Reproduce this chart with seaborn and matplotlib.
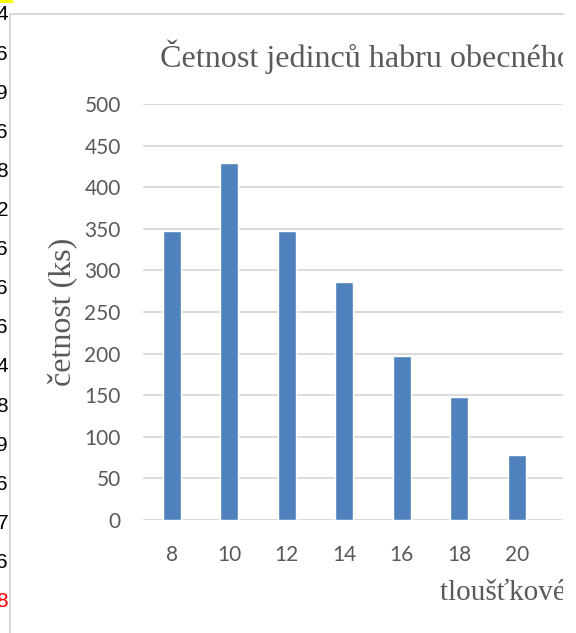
import matplotlib
matplotlib.use("Agg")
import matplotlib.pyplot as plt
import seaborn as sns
import pandas as pd
from matplotlib.patches import Rectangle
from matplotlib.lines import Line2D

# data
classes = ["8", "10", "12", "14", "16", "18", "20"]
counts = [347, 429, 347, 286, 197, 148, 78]
y_ticks = [0, 50, 100, 150, 200, 250, 300, 350, 400, 450, 500]

title = "Četnost jedinců habru obecného"
y_label = "četnost (ks)"
x_label = "tloušťkové třídy (cm)"

# cut-off spreadsheet column on the left edge
side_digits = ["4", "6", "9", "6", "8", "2", "6", "6", "6", "4", "8", "9", "6", "7", "6", "8"]
side_colors = ["black"] * 15 + ["red"]

df = pd.DataFrame({"trida": classes, "cetnost": counts})

sns.set_theme(style="white")
plt.rcParams["font.family"] = ["Lato", "DejaVu Sans"]

W, H = 576, 633
fig = plt.figure(figsize=(W / 100, H / 100), dpi=100)
fig.patch.set_facecolor("white")


def fx(px):
    return px / W


def fy(py):
    return 1 - py / H


ax = fig.add_axes([fx(143), fy(520), fx(563 - 143), (520 - 104) / H])
sns.barplot(data=df, x="trida", y="cetnost", color="#4f81bd", saturation=1,
            width=0.313, ax=ax)

ax.set_ylim(0, 500)
ax.set_yticks(y_ticks)
ax.set_xlim(-0.5, -0.5 + 420 / 57.5)
ax.set_axisbelow(True)
ax.yaxis.grid(True, color="#d9d9d9", linewidth=1.3)
ax.xaxis.grid(False)
for s in ax.spines.values():
    s.set_visible(False)
ax.tick_params(axis="both", length=0, labelsize=15, labelcolor="#595959")
ax.tick_params(axis="y", pad=16)
ax.tick_params(axis="x", pad=18)
ax.set_xlabel("")
ax.set_ylabel("")

serif = ["Liberation Serif", "DejaVu Serif"]
fig.text(fx(160), fy(57), title, family=serif, fontsize=23.1, color="#595959",
         ha="left", va="center")
fig.text(fx(62), fy(312), y_label, family=serif, fontsize=23, color="#595959",
         ha="center", va="center", rotation=90)
fig.text(fx(440), fy(592), x_label, family=serif, fontsize=21, color="#595959",
         ha="left", va="center")

# chart frame, cut at the right side of the screenshot
fig.add_artist(Rectangle((fx(563), 0), fx(W - 563) + 0.01, 1.01,
                         transform=fig.transFigure, facecolor="white",
                         edgecolor="none", zorder=10))
fig.add_artist(Line2D([fx(10), fx(563)], [fy(14), fy(14)], color="#d9d9d9",
                      linewidth=1.5, zorder=11))
fig.add_artist(Line2D([fx(10), fx(10)], [fy(14), 0], color="#d9d9d9",
                      linewidth=1.5, zorder=11))

# bits of the sheet behind the chart
fig.add_artist(Rectangle((0, fy(3)), fx(13), 3 / H, transform=fig.transFigure,
                         facecolor="#ffff00", edgecolor="none", zorder=11))
for i, (d, c) in enumerate(zip(side_digits, side_colors)):
    fig.text(fx(8), fy(15 + i * 39.1), d, family=["Liberation Sans", "DejaVu Sans"],
             fontsize=15, color=c, ha="right", va="center", zorder=12)

fig.savefig("out.png", dpi=100)
